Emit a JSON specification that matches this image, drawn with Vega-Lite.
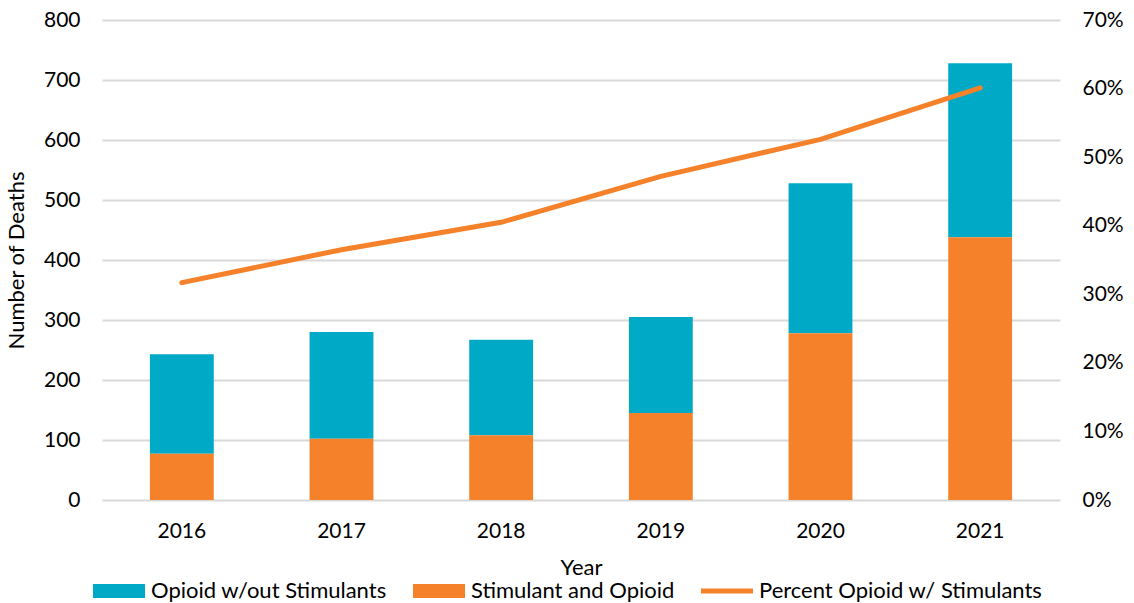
{
  "$schema": "https://vega.github.io/schema/vega-lite/v6.json",
  "width": 958,
  "height": 480,
  "autosize": {"type": "none"},
  "padding": {"left": 102, "top": 20, "right": 74, "bottom": 103},
  "background": "white",
  "config": {
    "view": {"stroke": null},
    "font": "Lato",
    "axis": {"labelFont": "Lato", "titleFont": "Lato", "labelFontSize": 21, "titleFontSize": 22, "titleFontWeight": "normal", "labelColor": "#000000", "titleColor": "#000000", "domain": false, "ticks": false},
    "legend": {"labelFont": "Lato", "labelFontSize": 22, "labelColor": "#000000"}
  },
  "datasets": {
    "deaths": [
      {"year": "2016", "category": "Opioid w/out Stimulants", "deaths": 166},
      {"year": "2016", "category": "Stimulant and Opioid", "deaths": 77},
      {"year": "2017", "category": "Opioid w/out Stimulants", "deaths": 178},
      {"year": "2017", "category": "Stimulant and Opioid", "deaths": 102},
      {"year": "2018", "category": "Opioid w/out Stimulants", "deaths": 159},
      {"year": "2018", "category": "Stimulant and Opioid", "deaths": 108},
      {"year": "2019", "category": "Opioid w/out Stimulants", "deaths": 160},
      {"year": "2019", "category": "Stimulant and Opioid", "deaths": 145},
      {"year": "2020", "category": "Opioid w/out Stimulants", "deaths": 250},
      {"year": "2020", "category": "Stimulant and Opioid", "deaths": 278},
      {"year": "2021", "category": "Opioid w/out Stimulants", "deaths": 290},
      {"year": "2021", "category": "Stimulant and Opioid", "deaths": 438}
    ],
    "percent": [
      {"year": "2016", "pct": 0.317},
      {"year": "2017", "pct": 0.365},
      {"year": "2018", "pct": 0.405},
      {"year": "2019", "pct": 0.472},
      {"year": "2020", "pct": 0.526},
      {"year": "2021", "pct": 0.601}
    ]
  },
  "encoding": {
    "x": {
      "field": "year",
      "type": "nominal",
      "title": "Year",
      "scale": {"paddingInner": 0.6, "paddingOuter": 0.3},
      "axis": {"labelAngle": 0, "labelPadding": 20, "titlePadding": 16}
    }
  },
  "layer": [
    {
      "data": {"name": "deaths"},
      "mark": {"type": "bar"},
      "encoding": {
        "y": {
          "field": "deaths",
          "type": "quantitative",
          "stack": "zero",
          "title": "Number of Deaths",
          "scale": {"domain": [0, 800]},
          "axis": {"values": [0, 100, 200, 300, 400, 500, 600, 700, 800], "grid": true, "gridColor": "#d9d9d9", "gridWidth": 2, "labelPadding": 22, "titlePadding": 15}
        },
        "color": {
          "field": "category",
          "type": "nominal",
          "scale": {
            "domain": ["Opioid w/out Stimulants", "Stimulant and Opioid", "Percent Opioid w/ Stimulants"],
            "range": ["#00A9C6", "#F5822A", "#F5822A"]
          },
          "legend": {
            "orient": "none",
            "legendX": -9,
            "legendY": 545,
            "direction": "horizontal",
            "title": null,
            "symbolSize": 2704,
            "symbolStrokeWidth": 0,
            "labelOffset": 6,
            "labelLimit": 500,
            "columnPadding": 26,
            "gridAlign": "none",
            "encode": {
              "symbols": {
                "update": {
                  "shape": {"signal": "datum.value == 'Percent Opioid w/ Stimulants' ? 'M-1,-0.1H1V0.1H-1Z' : 'M-1,-0.27H1V0.27H-1Z'"},
                  "fill": {"signal": "datum.value == 'Opioid w/out Stimulants' ? '#00A9C6' : '#F5822A'"},
                  "strokeWidth": {"value": 0},
                  "opacity": {"value": 1},
                  "fillOpacity": {"value": 1}
                }
              }
            }
          }
        },
        "order": {"field": "category", "sort": "descending"}
      }
    },
    {
      "data": {"name": "percent"},
      "mark": {"type": "line", "strokeWidth": 5, "strokeCap": "round", "strokeJoin": "round"},
      "encoding": {
        "y": {
          "field": "pct",
          "type": "quantitative",
          "title": null,
          "scale": {"domain": [0, 0.7]},
          "axis": {"orient": "right", "format": ".0%", "values": [0, 0.1, 0.2, 0.3, 0.4, 0.5, 0.6, 0.7], "grid": false, "labelPadding": 22}
        },
        "color": {"datum": "Percent Opioid w/ Stimulants", "type": "nominal"}
      }
    }
  ],
  "resolve": {"scale": {"y": "independent"}}
}
